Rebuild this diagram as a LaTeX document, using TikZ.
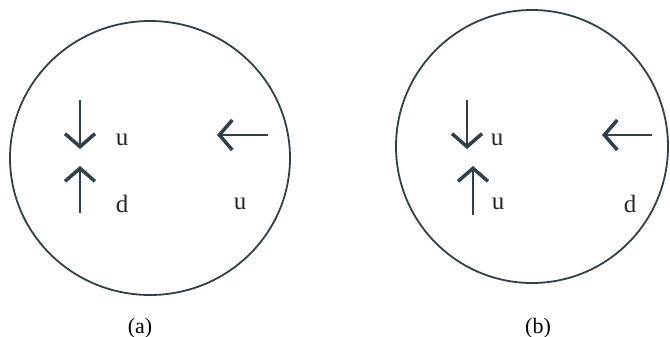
\documentclass[tikz,border=0pt]{standalone}
\usepackage{fontspec}
\setmainfont{Liberation Serif}
\usetikzlibrary{arrows.meta}
\definecolor{pencil}{RGB}{48,64,72}

\begin{document}
\begin{tikzpicture}[x=1pt, y=-1pt,
  ring/.style={draw=pencil, line width=1.8pt},
  spin/.style={draw=pencil, line width=1.5pt, -{Straight Barb[length=13pt, width=30pt, line width=3.5pt]}},
  quark/.style={font=\fontsize{25}{28}\selectfont, text=black!85, inner sep=0pt},
  tag/.style={font=\fontsize{22}{24}\selectfont, inner sep=0pt},
]
\useasboundingbox (0,0) rectangle (670,337);

% (a)
\coordinate (Ca) at (150,158);
\draw[ring] (Ca) ellipse [x radius=140, y radius=137];
\coordinate (a1s) at (80,100);  \coordinate (a1e) at (80,149);
\coordinate (a2s) at (80,213);  \coordinate (a2e) at (80,166);
\coordinate (a3s) at (268,135); \coordinate (a3e) at (217,135);
\draw[spin] (a1s) -- (a1e);
\draw[spin] (a2s) -- (a2e);
\draw[spin] (a3s) -- (a3e);
\node[quark] (qa1) at (122,140) {u};
\node[quark] (qa2) at (122,204) {d};
\node[quark] (qa3) at (240,204) {u};
\node[tag] (La) at (140,328) {(a)};

% (b)
\coordinate (Cb) at (532,146.5);
\draw[ring] (Cb) ellipse [x radius=136, y radius=136.5];
\coordinate (b1s) at (467,100); \coordinate (b1e) at (467,149);
\coordinate (b2s) at (473,215); \coordinate (b2e) at (473,166);
\coordinate (b3s) at (652,135); \coordinate (b3e) at (602,135);
\draw[spin] (b1s) -- (b1e);
\draw[spin] (b2s) -- (b2e);
\draw[spin] (b3s) -- (b3e);
\node[quark] (qb1) at (497,140) {u};
\node[quark] (qb2) at (498,204) {u};
\node[quark] (qb3) at (630,204) {d};
\node[tag] (Lb) at (538,328) {(b)};

\end{tikzpicture}
\end{document}
